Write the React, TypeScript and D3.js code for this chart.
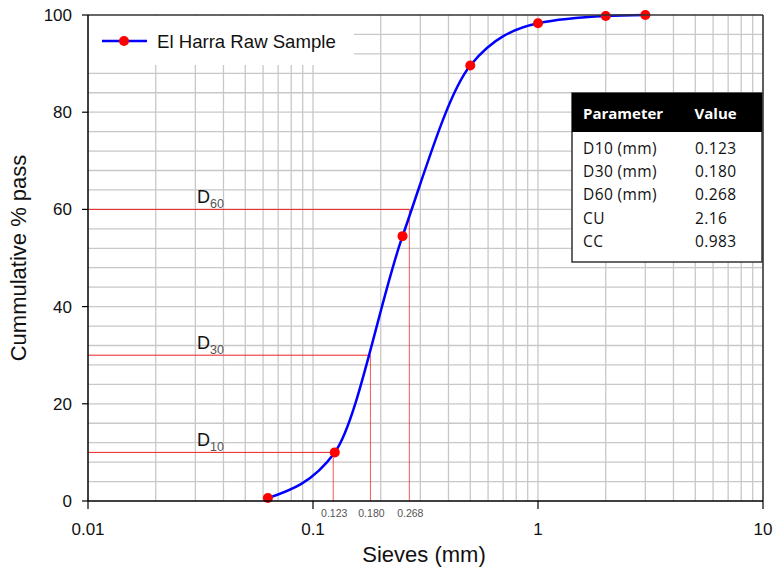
import React from "react";
import * as d3 from "d3";

const sieveSizes = [0.063, 0.125, 0.25, 0.5, 1, 2, 3];
const percentPassing = [0.6, 10, 54.5, 89.6, 98.3, 99.8, 100];

const dNames = ["10", "30", "60"];
const dPercents = [10, 30, 60];
const dSizes = [0.123, 0.18, 0.268];
const dSizeLabels = ["0.123", "0.180", "0.268"];

const tableParams = ["D10 (mm)", "D30 (mm)", "D60 (mm)", "CU", "CC"];
const tableValues = ["0.123", "0.180", "0.268", "2.16", "0.983"];

const xTicks = [0.01, 0.1, 1, 10];
const xTickLabels = ["0.01", "0.1", "1", "10"];
const yTicks = [0, 20, 40, 60, 80, 100];
const yGridStep = 4;

const seriesName = "El Harra Raw Sample";

const W = 775;
const H = 571;
const L = 88, R = 763, T = 15, B = 501;
const FONT = "'Liberation Sans', Arial, sans-serif";
const TFONT = "'Open Sans', 'Noto Sans', sans-serif";

export default function App() {
  const x = d3.scaleLog().domain([0.01, 10]).range([L, R]);
  const y = d3.scaleLinear().domain([0, 100]).range([B, T]);

  const xGrid: number[] = [];
  [0.01, 0.1, 1].forEach((dec) => {
    for (let k = 2; k <= 10; k++) xGrid.push(dec * k);
  });
  const yGrid = d3.range(yGridStep, 100, yGridStep);

  const pts = sieveSizes.map((s, i) => [s, percentPassing[i]] as [number, number]);
  const line = d3
    .line<[number, number]>()
    .x((d) => x(d[0]))
    .y((d) => y(d[1]))
    .curve(d3.curveMonotoneX);

  const tX = 572, tY = 93, tW = 190, tH = 169;

  return (
    <div style={{ position: "absolute", left: 0, top: 0 }}>
      <svg width={W} height={H} style={{ display: "block", background: "#fff" }}>
        {/* grid */}
        <g stroke="#c8c8c8" strokeWidth={1.3}>
          {xGrid.map((v, i) => (
            <line key={"xg" + i} x1={x(v)} x2={x(v)} y1={T} y2={B} />
          ))}
          {yGrid.map((v, i) => (
            <line key={"yg" + i} x1={L} x2={R} y1={y(v)} y2={y(v)} />
          ))}
        </g>

        {/* D reference lines */}
        <g stroke="#f02020" strokeWidth={1}>
          {dSizes.map((s, i) => (
            <g key={"dl" + i}>
              <line x1={L} x2={x(s)} y1={y(dPercents[i])} y2={y(dPercents[i])} />
              <line x1={x(s)} x2={x(s)} y1={y(dPercents[i])} y2={B} strokeOpacity={0.75} />
            </g>
          ))}
        </g>
        {dNames.map((n, i) => (
          <text key={"dt" + i} x={197} y={y(dPercents[i]) - 6} fontFamily={FONT} fontSize={18} fill="#111">
            D
            <tspan fontSize={12.5} fill="#555" dy={5}>{n}</tspan>
          </text>
        ))}
        {dSizes.map((s, i) => (
          <text key={"ds" + i} x={x(s) + 1} y={517} textAnchor="middle" fontFamily={FONT} fontSize={10.5} fill="#555">
            {dSizeLabels[i]}
          </text>
        ))}

        {/* curve */}
        <path d={line(pts) || ""} fill="none" stroke="#0000ff" strokeWidth={2.5} />
        {pts.map((p, i) => (
          <circle key={"pt" + i} cx={x(p[0])} cy={y(p[1])} r={5} fill="#ff0000" />
        ))}

        {/* legend */}
        <rect x={L + 1} y={T + 1} width={265} height={49} fill="#fff" />
        <line x1={102} x2={147} y1={41} y2={41} stroke="#0000ff" strokeWidth={2.5} />
        <circle cx={124} cy={41} r={5} fill="#ff0000" />
        <text x={157} y={47.5} fontFamily={FONT} fontSize={18.6} fill="#111">{seriesName}</text>

        {/* table */}
        <rect x={tX} y={tY} width={tW} height={tH} fill="#fff" stroke="#333" strokeWidth={1.5} />
        <rect x={tX} y={tY} width={tW} height={39} fill="#000" />
        <text x={583} y={118.5} fontFamily={TFONT} fontWeight={700} fontSize={15} fill="#fff">Parameter</text>
        <text x={694.5} y={118.5} fontFamily={TFONT} fontWeight={700} fontSize={15} fill="#fff">Value</text>
        {tableParams.map((p, i) => (
          <g key={"tr" + i}>
            <text x={583} y={154 + i * 23.2} fontFamily={TFONT} fontSize={15.5} letterSpacing={0.4} fill="#111">{p}</text>
            <text x={695} y={154 + i * 23.2} fontFamily={TFONT} fontSize={15.5} letterSpacing={0.4} fill="#111">{tableValues[i]}</text>
          </g>
        ))}

        {/* border */}
        <line x1={L} x2={R} y1={T} y2={T} stroke="#333" strokeWidth={1.5} />
        <line x1={R} x2={R} y1={T} y2={B} stroke="#333" strokeWidth={1.5} />
        {/* axes */}
        <line x1={L} x2={L} y1={T} y2={B} stroke="#000" strokeWidth={1.5} />
        <line x1={L} x2={R} y1={B} y2={B} stroke="#000" strokeWidth={1.5} />
        {yTicks.map((v, i) => (
          <g key={"yt" + i}>
            <line x1={L - 6} x2={L} y1={y(v)} y2={y(v)} stroke="#000" strokeWidth={1.2} />
            <text x={72} y={y(v) + 6} textAnchor="end" fontFamily={FONT} fontSize={17} fill="#111">{v}</text>
          </g>
        ))}
        {xTicks.map((v, i) => (
          <g key={"xt" + i}>
            <line x1={x(v)} x2={x(v)} y1={B} y2={B + 8} stroke="#000" strokeWidth={1.2} />
            <text x={x(v)} y={535} textAnchor="middle" fontFamily={FONT} fontSize={17} fill="#111">{xTickLabels[i]}</text>
          </g>
        ))}
        <text x={424} y={562} textAnchor="middle" fontFamily={FONT} fontSize={22} fill="#111">Sieves (mm)</text>
        <text transform="translate(26,258) rotate(-90)" textAnchor="middle" fontFamily={FONT} fontSize={22} fill="#111">
          Cummulative % pass
        </text>
      </svg>
    </div>
  );
}
